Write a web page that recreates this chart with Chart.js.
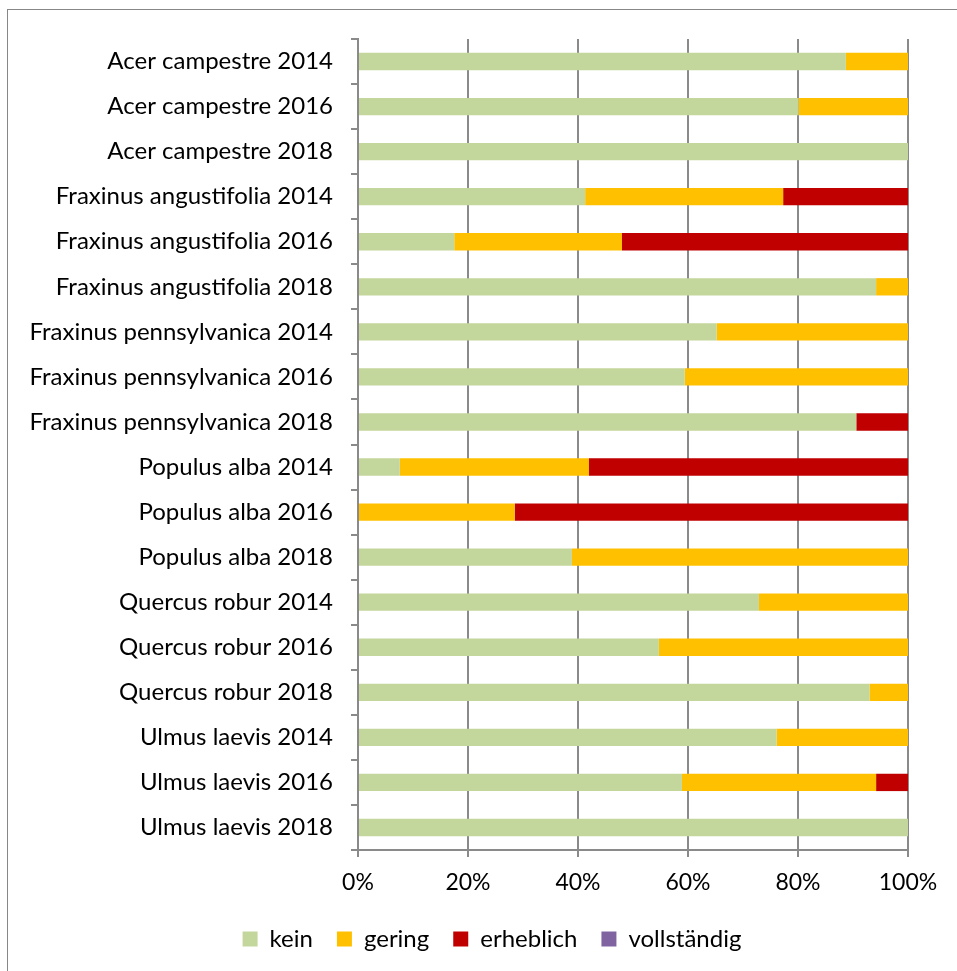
<!DOCTYPE html>
<html>
<head>
<meta charset="utf-8">
<script src="https://cdn.jsdelivr.net/npm/chart.js"></script>
<style>
  html, body { margin: 0; padding: 0; background: #fff; }
  #wrap { position: relative; width: 957px; height: 971px; }
  #frame { position: absolute; left: 7px; top: 9px; width: 1000px; height: 1000px;
           border-left: 1px solid #878787; border-top: 1px solid #878787; box-sizing: border-box; pointer-events: none; }
  canvas { position: absolute; left: 0; top: 0; }
</style>
</head>
<body>
<div id="wrap">
  <canvas id="c" width="957" height="971"></canvas>
  <div id="frame"></div>
</div>
<script>
const categories = [
  "Acer campestre 2014", "Acer campestre 2016", "Acer campestre 2018",
  "Fraxinus angustifolia 2014", "Fraxinus angustifolia 2016", "Fraxinus angustifolia 2018",
  "Fraxinus pennsylvanica 2014", "Fraxinus pennsylvanica 2016", "Fraxinus pennsylvanica 2018",
  "Populus alba 2014", "Populus alba 2016", "Populus alba 2018",
  "Quercus robur 2014", "Quercus robur 2016", "Quercus robur 2018",
  "Ulmus laevis 2014", "Ulmus laevis 2016", "Ulmus laevis 2018"
];
const kein        = [88.7, 80.1, 100, 41.3, 17.5, 94.2, 65.2, 59.4, 90.6, 7.6, 0,    38.9, 72.9, 54.7, 93.0, 76.1, 58.9, 100];
const gering      = [11.3, 19.9, 0,   36.0, 30.5, 5.8,  34.8, 40.6, 0,    34.4, 28.5, 61.1, 27.1, 45.3, 7.0,  23.9, 35.3, 0];
const erheblich   = [0,    0,    0,   22.7, 52.0, 0,    0,    0,    9.4,  58.0, 71.5, 0,    0,    0,    0,    0,    5.8,  0];
const vollstaendig= [0,    0,    0,   0,    0,    0,    0,    0,    0,    0,    0,    0,    0,    0,    0,    0,    0,    0];
const seriesNames = ["kein", "gering", "erheblich", "vollständig"];
const xTicks = [0, 20, 40, 60, 80, 100];

const colors = ["#C3D69B", "#FFC000", "#C00000", "#8064A2"];
const FONT = "Lato";
const axisGray = "#8a8a8a";

const ds = [kein, gering, erheblich, vollstaendig].map((d, i) => ({
  label: seriesNames[i],
  data: d,
  backgroundColor: colors[i],
  borderWidth: 0,
  barPercentage: 0.385,
  categoryPercentage: 1.0
}));

const legendShift = {
  id: "legendShift",
  afterLayout(chart) {
    const lg = chart.legend;
    if (lg) { lg.left += 38; lg.right += 38; }
  }
};

new Chart(document.getElementById("c"), {
  type: "bar",
  data: { labels: categories, datasets: ds },
  plugins: [legendShift],
  options: {
    indexAxis: "y",
    responsive: false,
    animation: false,
    layout: { padding: { left: 0, right: 49, top: 39, bottom: 10 } },
    plugins: {
      tooltip: { enabled: false },
      legend: {
        position: "bottom",
        labels: {
          font: { family: FONT, size: 24 },
          color: "#000",
          boxWidth: 15,
          boxHeight: 15,
          padding: 24
        }
      }
    },
    scales: {
      x: {
        stacked: true,
        min: 0, max: 100,
        afterBuildTicks: (s) => { s.ticks = xTicks.map(v => ({ value: v })); },
        afterFit: (s) => { s.height = 53; },
        ticks: {
          callback: (v) => v + "%",
          font: { family: FONT, size: 23 },
          color: "#000",
          padding: 12,
          maxRotation: 0
        },
        grid: { color: axisGray, lineWidth: 2, tickLength: 7, drawTicks: true },
        border: { display: true, color: axisGray, width: 2 }
      },
      y: {
        stacked: true,
        afterFit: (s) => { s.width = 358; },
        ticks: {
          font: { family: FONT, size: 24 },
          color: "#000",
          padding: 18,
          autoSkip: false
        },
        grid: { offset: true, drawOnChartArea: false, color: axisGray, lineWidth: 2, tickLength: 7, drawTicks: true },
        border: { display: true, color: axisGray, width: 2 }
      }
    }
  }
});
</script>
</body>
</html>
